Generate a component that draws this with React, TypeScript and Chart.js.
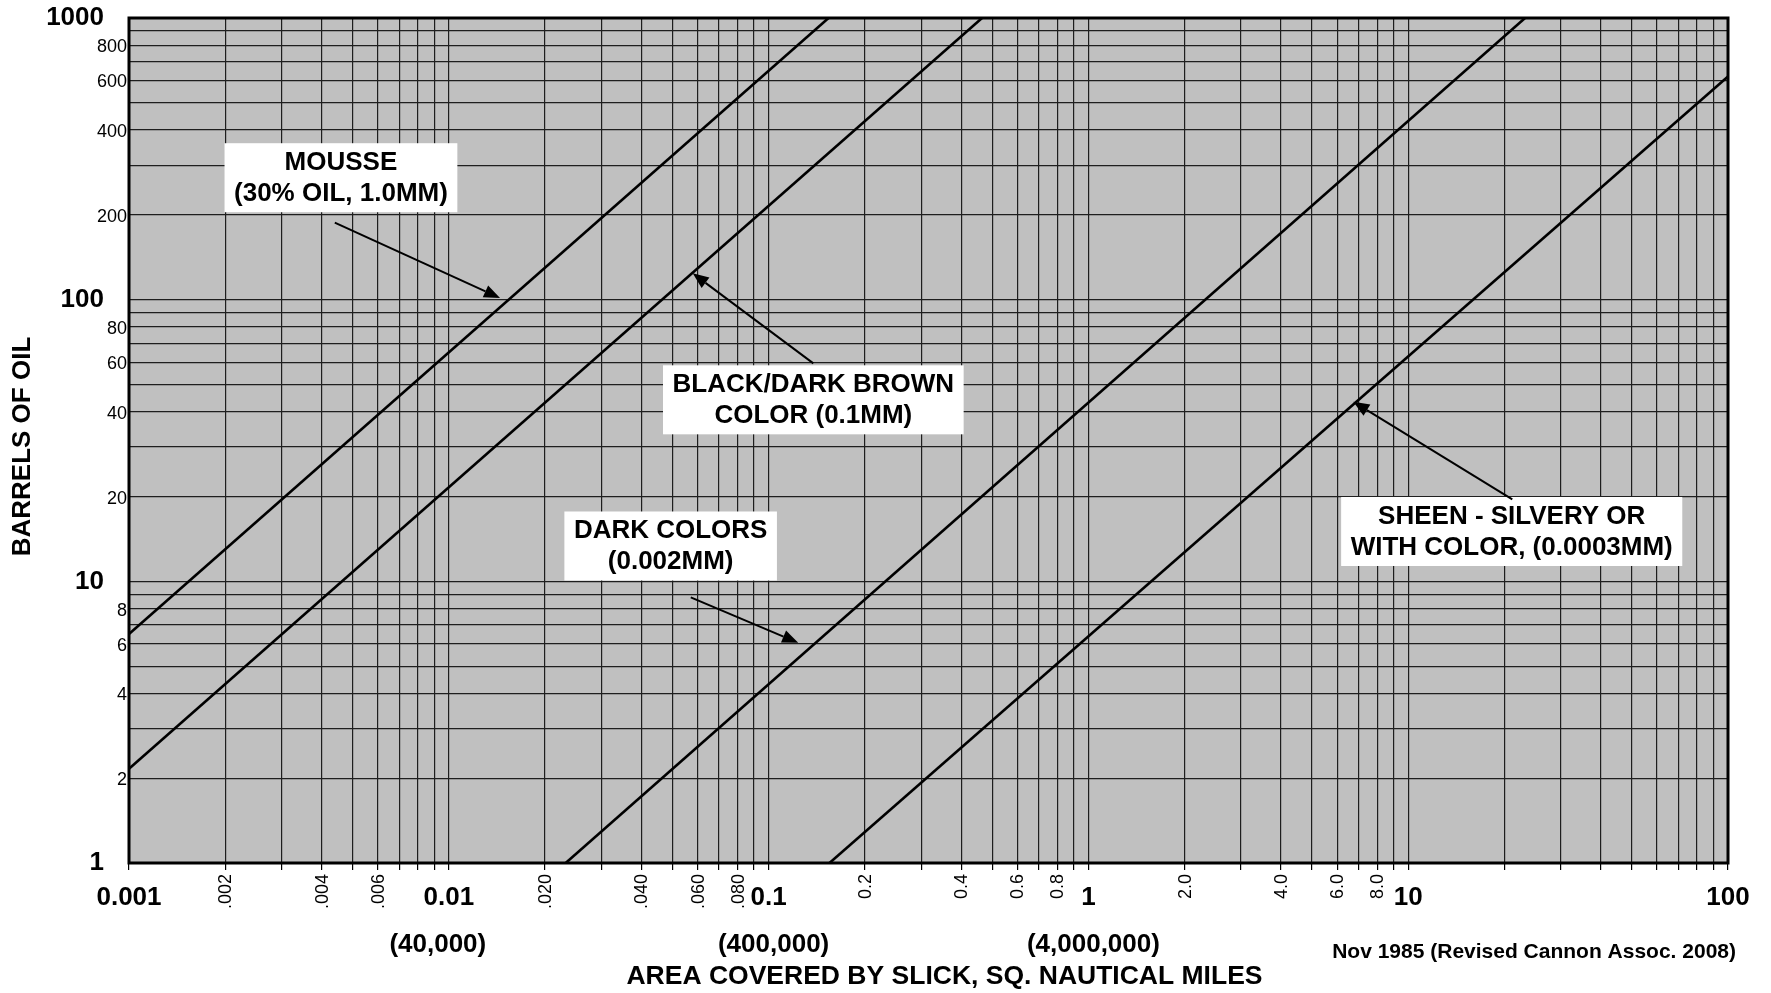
import React, { useEffect, useRef } from 'react';
import { Chart, registerables } from 'chart.js';

Chart.register(...registerables);

const FONT = "'Liberation Sans', Arial, Helvetica, sans-serif";

// Axis ranges
const X_MIN = 0.001;
const X_MAX = 100;
const Y_MIN = 1;
const Y_MAX = 1000;

// Series (area in sq. nautical miles vs barrels of oil)
const MOUSSE_X = [0.001, 0.154];
const MOUSSE_Y = [6.5, 1000];
const BLACK_X = [0.001, 0.465];
const BLACK_Y = [2.16, 1000];
const DARK_X = [0.0232, 23.2];
const DARK_Y = [1, 1000];
const SHEEN_X = [0.155, 100];
const SHEEN_Y = [1, 620];

// Tick labels
const X_MAJOR_TICKS = [0.001, 0.01, 0.1, 1, 10, 100];
const X_MAJOR_LABELS = ['0.001', '0.01', '0.1', '1', '10', '100'];
const X_MINOR_TICKS = [0.002, 0.004, 0.006, 0.02, 0.04, 0.06, 0.08, 0.2, 0.4, 0.6, 0.8, 2, 4, 6, 8];
const X_MINOR_LABELS = ['.002', '.004', '.006', '.020', '.040', '.060', '.080', '0.2', '0.4', '0.6', '0.8', '2.0', '4.0', '6.0', '8.0'];
const Y_MAJOR_TICKS = [1, 10, 100, 1000];
const Y_MAJOR_LABELS = ['1', '10', '100', '1000'];
const Y_MINOR_TICKS = [2, 4, 6, 8, 20, 40, 60, 80, 200, 400, 600, 800];
const Y_MINOR_LABELS = ['2', '4', '6', '8', '20', '40', '60', '80', '200', '400', '600', '800'];

// Equivalent areas under decades
const AREA_EQUIV_AT = [0.01, 0.1, 1];
const AREA_EQUIV_LABELS = ['(40,000)', '(400,000)', '(4,000,000)'];
const AREA_EQUIV_DX = [-11, 5, 5];

const X_TITLE = 'AREA COVERED BY SLICK, SQ. NAUTICAL MILES';
const Y_TITLE = 'BARRELS OF OIL';
const CREDIT = 'Nov 1985 (Revised Cannon Assoc. 2008)';

// Callouts (box centre and arrow in data coordinates)
const CALLOUT_LINES = [
  ['MOUSSE', '(30% OIL, 1.0MM)'],
  ['BLACK/DARK BROWN', 'COLOR (0.1MM)'],
  ['DARK COLORS', '(0.002MM)'],
  ['SHEEN - SILVERY OR', 'WITH COLOR, (0.0003MM)'],
];
const CALLOUT_BOX_X = [0.0046, 0.138, 0.0494, 21.07];
const CALLOUT_BOX_Y = [271, 44.1, 13.35, 15.03];
const ARROW_FROM_X = [0.0044, 0.138, 0.0571, 21.16];
const ARROW_FROM_Y = [187.7, 59.4, 8.77, 19.54];
const ARROW_TO_X = [0.01446, 0.0579, 0.1238, 6.735];
const ARROW_TO_Y = [101.4, 124.1, 6.05, 43.4];

function gridValues(decades: number[], last: number) {
  const out: number[] = [];
  decades.forEach((d) => {
    for (let m = 1; m <= 9; m++) out.push(parseFloat((d * m).toPrecision(6)));
  });
  out.push(last);
  return out;
}
const X_GRID = gridValues([0.001, 0.01, 0.1, 1, 10], 100);
const Y_GRID = gridValues([1, 10, 100], 1000);

const toPts = (xs: number[], ys: number[]) => xs.map((x, i) => ({ x, y: ys[i] }));

const overlay = {
  id: 'overlay',
  beforeDraw(chart: any) {
    const { ctx, chartArea: a } = chart;
    ctx.save();
    ctx.fillStyle = '#c0c0c0';
    ctx.fillRect(a.left, a.top, a.right - a.left, a.bottom - a.top);
    ctx.restore();
  },
  afterDatasetsDraw(chart: any) {
    const { ctx, chartArea: a } = chart;
    const xs = chart.scales.x;
    const ys = chart.scales.y;
    ctx.save();
    // border
    ctx.strokeStyle = '#000';
    ctx.lineWidth = 3;
    ctx.strokeRect(a.left, a.top, a.right - a.left, a.bottom - a.top);

    // callout boxes
    ctx.font = `bold 26px ${FONT}`;
    ctx.textAlign = 'center';
    ctx.textBaseline = 'middle';
    CALLOUT_LINES.forEach((lines, i) => {
      const cx = xs.getPixelForValue(CALLOUT_BOX_X[i]);
      const cy = ys.getPixelForValue(CALLOUT_BOX_Y[i]);
      const w = Math.max(...lines.map((l) => ctx.measureText(l).width)) + 19;
      const h = 69;
      ctx.fillStyle = '#fff';
      ctx.fillRect(cx - w / 2, cy - h / 2, w, h);
      ctx.fillStyle = '#000';
      ctx.fillText(lines[0], cx, cy - 15);
      ctx.fillText(lines[1], cx, cy + 16);
    });

    // arrows
    ctx.strokeStyle = '#000';
    ctx.fillStyle = '#000';
    ctx.lineWidth = 2;
    ARROW_FROM_X.forEach((_, i) => {
      const x1 = xs.getPixelForValue(ARROW_FROM_X[i]);
      const y1 = ys.getPixelForValue(ARROW_FROM_Y[i]);
      const x2 = xs.getPixelForValue(ARROW_TO_X[i]);
      const y2 = ys.getPixelForValue(ARROW_TO_Y[i]);
      const ang = Math.atan2(y2 - y1, x2 - x1);
      const len = 16;
      const hw = 6.5;
      const bx = x2 - len * Math.cos(ang);
      const by = y2 - len * Math.sin(ang);
      ctx.beginPath();
      ctx.moveTo(x1, y1);
      ctx.lineTo(bx, by);
      ctx.stroke();
      ctx.beginPath();
      ctx.moveTo(x2, y2);
      ctx.lineTo(bx + hw * Math.sin(ang), by - hw * Math.cos(ang));
      ctx.lineTo(bx - hw * Math.sin(ang), by + hw * Math.cos(ang));
      ctx.closePath();
      ctx.fill();
    });
    ctx.restore();
  },
  afterDraw(chart: any) {
    const { ctx, chartArea: a } = chart;
    const xs = chart.scales.x;
    const ys = chart.scales.y;
    ctx.save();
    ctx.fillStyle = '#000';

    // y labels
    ctx.textAlign = 'right';
    ctx.textBaseline = 'middle';
    ctx.font = `bold 26px ${FONT}`;
    Y_MAJOR_TICKS.forEach((v, i) => {
      ctx.fillText(Y_MAJOR_LABELS[i], a.left - 25, ys.getPixelForValue(v));
    });
    ctx.font = `18px ${FONT}`;
    Y_MINOR_TICKS.forEach((v, i) => {
      ctx.fillText(Y_MINOR_LABELS[i], a.left - 2, ys.getPixelForValue(v) + 2);
    });

    // x labels
    ctx.textAlign = 'center';
    ctx.font = `bold 26px ${FONT}`;
    X_MAJOR_TICKS.forEach((v, i) => {
      ctx.fillText(X_MAJOR_LABELS[i], xs.getPixelForValue(v), a.bottom + 35);
    });
    ctx.font = `18px ${FONT}`;
    X_MINOR_TICKS.forEach((v, i) => {
      ctx.save();
      ctx.translate(xs.getPixelForValue(v) + 1, a.bottom + 11);
      ctx.rotate(-Math.PI / 2);
      ctx.textAlign = 'right';
      ctx.textBaseline = 'middle';
      ctx.fillText(X_MINOR_LABELS[i], 0, 0);
      ctx.restore();
    });

    // equivalent areas
    ctx.font = `bold 26px ${FONT}`;
    ctx.textAlign = 'center';
    AREA_EQUIV_AT.forEach((v, i) => {
      ctx.fillText(AREA_EQUIV_LABELS[i], xs.getPixelForValue(v) + AREA_EQUIV_DX[i], a.bottom + 82);
    });

    // x title
    ctx.font = `bold 26.5px ${FONT}`;
    ctx.fillText(X_TITLE, (a.left + a.right) / 2 + 16, a.bottom + 114);

    // credit
    ctx.font = `bold 21px ${FONT}`;
    ctx.textAlign = 'right';
    ctx.fillText(CREDIT, a.right + 8, a.bottom + 89);

    // y title
    ctx.save();
    ctx.translate(23, (a.top + a.bottom) / 2 + 6);
    ctx.rotate(-Math.PI / 2);
    ctx.textAlign = 'center';
    ctx.font = `bold 26px ${FONT}`;
    ctx.fillText(Y_TITLE, 0, 0);
    ctx.restore();

    ctx.restore();
  },
};

export default function App() {
  const ref = useRef<HTMLCanvasElement | null>(null);
  useEffect(() => {
    if (!ref.current) return;
    const lineStyle = {
      borderColor: '#000',
      borderWidth: 2.6,
      pointRadius: 0,
      showLine: true,
      tension: 0,
      fill: false,
    };
    const chart = new Chart(ref.current, {
      type: 'scatter',
      data: {
        datasets: [
          { label: 'Mousse', data: toPts(MOUSSE_X, MOUSSE_Y), ...lineStyle },
          { label: 'Black/Dark Brown', data: toPts(BLACK_X, BLACK_Y), ...lineStyle },
          { label: 'Dark Colors', data: toPts(DARK_X, DARK_Y), ...lineStyle },
          { label: 'Sheen', data: toPts(SHEEN_X, SHEEN_Y), ...lineStyle },
        ],
      },
      options: {
        animation: false,
        responsive: false,
        layout: { padding: { left: 129, right: 43, top: 18, bottom: 123 } },
        plugins: { legend: { display: false }, tooltip: { enabled: false } },
        scales: {
          x: {
            type: 'logarithmic',
            min: X_MIN,
            max: X_MAX,
            afterBuildTicks: (s: any) => {
              s.ticks = X_GRID.map((v) => ({ value: v }));
            },
            ticks: { display: false },
            grid: { color: '#1e1e1e', lineWidth: 1.2, drawTicks: true, tickLength: 7, tickColor: '#000' },
            border: { display: false },
          },
          y: {
            type: 'logarithmic',
            min: Y_MIN,
            max: Y_MAX,
            afterBuildTicks: (s: any) => {
              s.ticks = Y_GRID.map((v) => ({ value: v }));
            },
            ticks: { display: false },
            grid: { color: '#1e1e1e', lineWidth: 1.2, drawTicks: false },
            border: { display: false },
          },
        },
      },
      plugins: [overlay],
    } as any);
    return () => chart.destroy();
  }, []);
  return (
    <div style={{ position: 'fixed', left: 0, top: 0, width: 1771, height: 993, background: '#fff' }}>
      <canvas ref={ref} width={1771} height={993} style={{ display: 'block' }} />
    </div>
  );
}
